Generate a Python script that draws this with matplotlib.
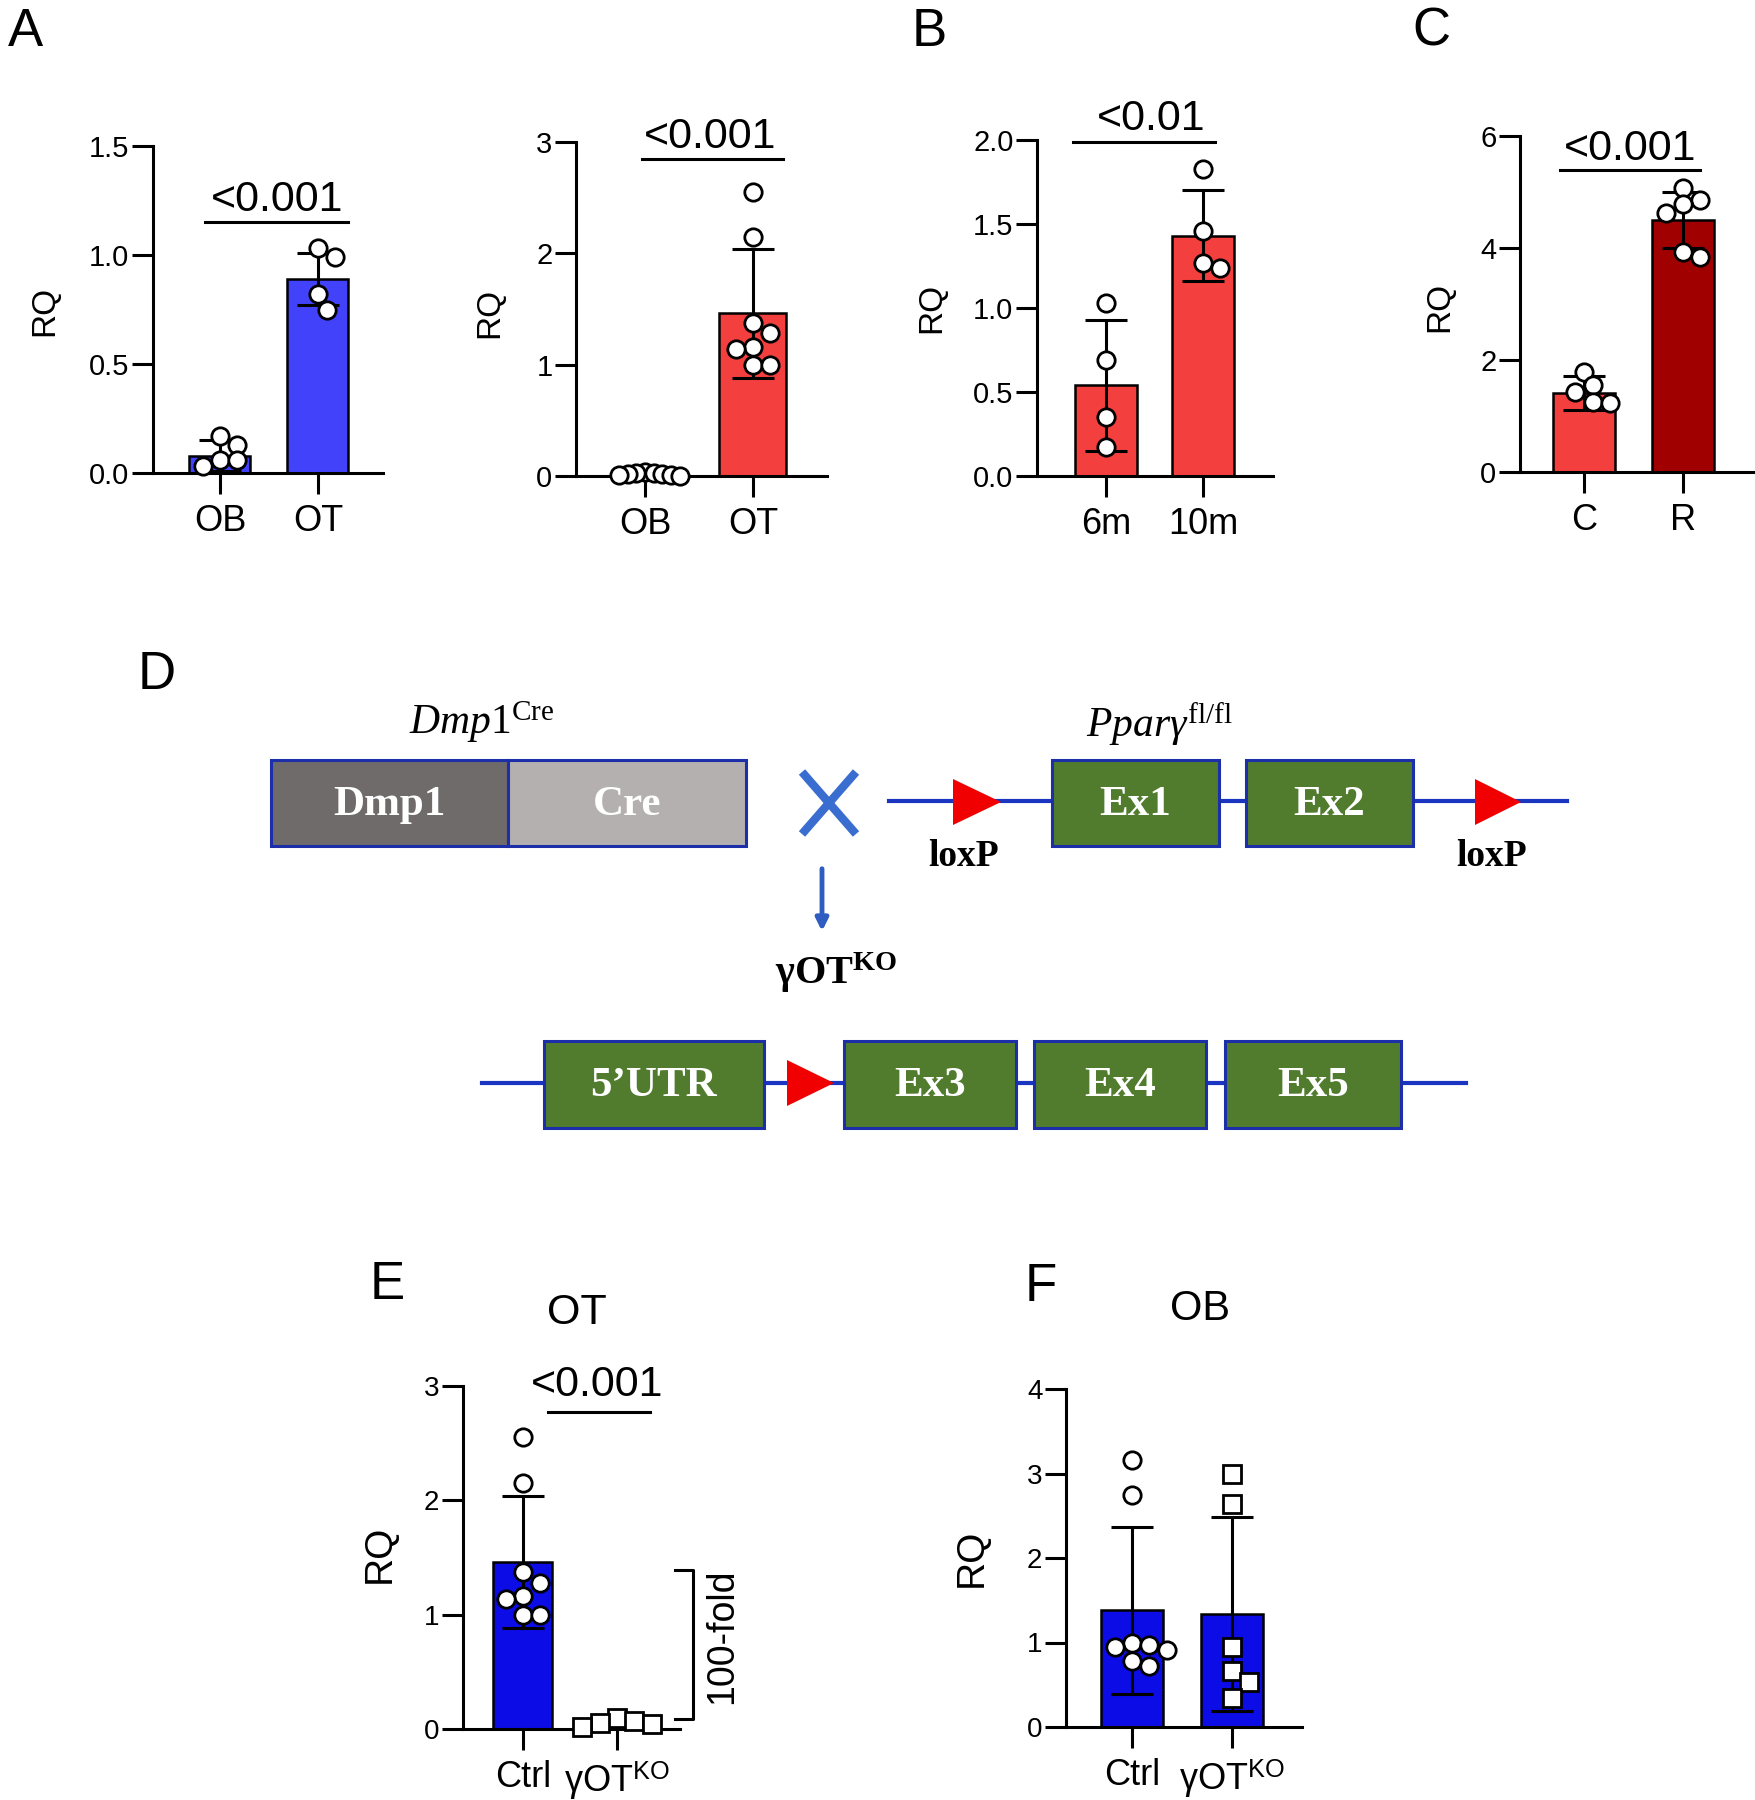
import matplotlib
matplotlib.use("Agg")
import matplotlib.pyplot as plt
from matplotlib.patches import Rectangle, Polygon

plt.rcParams['font.family'] = ['Liberation Sans', 'DejaVu Sans']
plt.rcParams['mathtext.fontset'] = 'custom'
plt.rcParams['mathtext.rm'] = 'Liberation Serif'
plt.rcParams['mathtext.it'] = 'Liberation Serif:italic'
plt.rcParams['mathtext.bf'] = 'Liberation Serif:bold'
plt.rcParams['mathtext.sf'] = 'Liberation Sans'

# ---------------- data ----------------
a1_cats = ["OB", "OT"]
a1_means = [0.08, 0.89]
a1_sd = [0.07, 0.12]
a1_ob_pts = [0.17, 0.13, 0.06, 0.06, 0.03]
a1_ot_pts = [1.03, 0.99, 0.82, 0.75]
a1_yticks = [0.0, 0.5, 1.0, 1.5]
a1_yticklabels = ["0.0", "0.5", "1.0", "1.5"]
a1_p = "<0.001"

a2_cats = ["OB", "OT"]
a2_means = [0.02, 1.46]
a2_sd = [0.02, 0.58]
a2_ob_pts = [0.04, 0.03, 0.03, 0.02, 0.02, 0.01, 0.01, 0.0]
a2_ot_pts = [2.55, 2.15, 1.37, 1.28, 1.16, 1.14, 1.00, 1.00]
a2_yticks = [0, 1, 2, 3]
a2_yticklabels = ["0", "1", "2", "3"]
a2_p = "<0.001"

b_cats = ["6m", "10m"]
b_means = [0.54, 1.43]
b_sd = [0.39, 0.27]
b_6m_pts = [1.03, 0.69, 0.35, 0.17]
b_10m_pts = [1.83, 1.46, 1.27, 1.24]
b_yticks = [0.0, 0.5, 1.0, 1.5, 2.0]
b_yticklabels = ["0.0", "0.5", "1.0", "1.5", "2.0"]
b_p = "<0.01"

c_cats = ["C", "R"]
c_means = [1.41, 4.50]
c_sd = [0.30, 0.50]
c_c_pts = [1.79, 1.55, 1.43, 1.25, 1.23]
c_r_pts = [5.07, 4.86, 4.79, 4.62, 3.93, 3.84]
c_yticks = [0, 2, 4, 6]
c_yticklabels = ["0", "2", "4", "6"]
c_p = "<0.001"

e_title = "OT"
e_cats = ["Ctrl", r"γOT$^{\mathsf{KO}}$"]
e_means = [1.46, 0.015]
e_sd = [0.58, 0.02]
e_ctrl_pts = [2.55, 2.15, 1.37, 1.28, 1.16, 1.14, 1.00, 1.00]
e_ko_pts = [0.10, 0.07, 0.05, 0.04, 0.02]
e_yticks = [0, 1, 2, 3]
e_yticklabels = ["0", "1", "2", "3"]
e_p = "<0.001"
e_fold = "100-fold"

f_title = "OB"
f_cats = ["Ctrl", r"γOT$^{\mathsf{KO}}$"]
f_means = [1.38, 1.34]
f_sd = [0.99, 1.15]
f_ctrl_pts = [3.16, 2.75, 0.99, 0.97, 0.95, 0.91, 0.78, 0.72]
f_ko_pts = [3.00, 2.64, 0.95, 0.66, 0.53, 0.34]
f_yticks = [0, 1, 2, 3, 4]
f_yticklabels = ["0", "1", "2", "3", "4"]

ylabel = "RQ"
panel_letters = ["A", "B", "C", "D", "E", "F"]

d_cre_labels = ["Dmp1", "Cre"]
d_flox_labels = ["Ex1", "Ex2"]
d_ko_labels = ["5\u2019UTR", "Ex3", "Ex4", "Ex5"]
d_cre_title = r"$\mathit{Dmp1}^{\mathrm{Cre}}$"
d_flox_title = r"$\mathit{Pparγ}^{\mathrm{fl/fl}}$"
d_ko_title = r"$\mathbf{γOT}^{\mathbf{KO}}$"
d_loxp = "loxP"

# ---------------- colours ----------------
BLUE_A = "#4242fb"
BLUE_E = "#0c0ce6"
RED = "#f43f3f"
DARKRED = "#a00000"

W, H, DPI = 1756, 1800, 100
fig = plt.figure(figsize=(W / DPI, H / DPI), dpi=DPI)

# ---------------- diagram (panel D) on a pixel-coordinate overlay ----------------
axd = fig.add_axes([0, 0, 1, 1])
axd.set_xlim(0, W)
axd.set_ylim(H, 0)
axd.axis("off")

LINE_BLUE = "#1a35c0"
EDGE_BLUE = "#1c2fa8"
GREEN = "#517c2e"

def box(x0, x1, y0, y1, fc, label, fs=31):
    axd.add_patch(Rectangle((x0, y0), x1 - x0, y1 - y0, facecolor=fc,
                            edgecolor=EDGE_BLUE, lw=2.2, zorder=3))
    axd.text((x0 + x1) / 2, (y0 + y1) / 2 + 2, label, ha="center", va="center",
             color="white", fontsize=fs, family="Liberation Serif",
             fontweight="bold", zorder=4)

def tri(x0, x1, yc, h):
    axd.add_patch(Polygon([(x0, yc - h / 2), (x0, yc + h / 2), (x1, yc)],
                          closed=True, facecolor="#f00000", edgecolor="none", zorder=4))

# Dmp1-Cre construct
box(271, 508, 760, 846, "#6f6b6b", d_cre_labels[0])
box(508, 746, 760, 846, "#b4b0af", d_cre_labels[1])
axd.text(482, 722, d_cre_title, ha="center", va="center", fontsize=30, color="black")

# cross mark
axd.plot([802, 856], [772, 834], color="#3a6dd0", lw=6, solid_capstyle="butt")
axd.plot([802, 856], [834, 772], color="#3a6dd0", lw=6, solid_capstyle="butt")
# arrow down
axd.annotate("", xy=(822, 934), xytext=(822, 866),
             arrowprops=dict(arrowstyle="-|>", color="#2e5cc0", lw=3.5, mutation_scale=18))
axd.text(836, 973, d_ko_title, ha="center", va="center", fontsize=29, color="black")

# floxed Pparg construct
axd.plot([889, 1567], [801, 801], color=LINE_BLUE, lw=3, zorder=2)
tri(953, 1001, 802, 46)
tri(1475, 1521, 802, 46)
axd.text(964, 856, d_loxp, ha="center", va="center", fontsize=27,
         family="Liberation Serif", fontweight="bold")
axd.text(1492, 856, d_loxp, ha="center", va="center", fontsize=27,
         family="Liberation Serif", fontweight="bold")
box(1052, 1219, 760, 846, GREEN, d_flox_labels[0])
box(1246, 1413, 760, 846, GREEN, d_flox_labels[1])
axd.text(1159, 724, d_flox_title, ha="center", va="center", fontsize=30, color="black")

# KO allele
axd.plot([482, 1466], [1083, 1083], color=LINE_BLUE, lw=3, zorder=2)
ko_x = [(544, 764), (844, 1016), (1034, 1206), (1225, 1401)]
for (x0, x1), lab in zip(ko_x, d_ko_labels):
    box(x0, x1, 1041, 1128, GREEN, lab)
tri(787, 834, 1083, 46)

# ---------------- bar panels ----------------
MS = 12.5  # marker size (pt)


def swarm_x(ax, xc, vals, diam, overlap=0.95):
    t = ax.transData
    inv = t.inverted()
    placed, xs = [], []
    step = diam * 0.5
    order = [0]
    for k in range(1, 20):
        order += [k, -k]
    for v in vals:
        px, py = t.transform((xc, v))
        cx = px
        for k in order:
            cx = px + k * step
            if all((cx - qx) ** 2 + (py - qy) ** 2 >= (diam * overlap) ** 2 for qx, qy in placed):
                break
        placed.append((cx, py))
        xs.append(inv.transform((cx, py))[0])
    return xs


def bar_panel(L, R, y0px, ytop_px, ytop_val, c0px, c1px, cats, means, sds, colors,
              pts_list, markers, yticks, yticklabels, ytick_fs, overlaps=(0.95, 0.95),
              bw_px=62):
    ax = fig.add_axes([L / W, 1 - y0px / H, (R - L) / W, (y0px - ytop_px) / H])
    u = c1px - c0px
    ax.set_xlim(-(c0px - L) / u, 1 + (R - c1px) / u)
    ax.set_ylim(0, ytop_val)
    ax.patch.set_alpha(0)
    for s in ["top", "right"]:
        ax.spines[s].set_visible(False)
    for s in ["left", "bottom"]:
        ax.spines[s].set_linewidth(2.2)
    ax.tick_params(axis="both", direction="out", length=15, width=2.2)
    ax.tick_params(axis="y", labelsize=ytick_fs, pad=2)
    ax.tick_params(axis="x", labelsize=26, pad=7)
    x = [0, 1]
    ax.set_xticks(x)
    ax.set_xticklabels(cats)
    ax.set_yticks(yticks)
    ax.set_yticklabels(yticklabels)
    ax.bar(x, means, width=bw_px / u, color=colors, edgecolor="black", lw=1.8, zorder=2)
    ax.errorbar(x, means, yerr=sds, fmt="none", ecolor="black", elinewidth=2.2,
                capsize=15, capthick=2.2, zorder=3)
    diam = MS * DPI / 72
    for xi, pts, mk, ov in zip(x, pts_list, markers, overlaps):
        xs = swarm_x(ax, xi, pts, diam, ov)
        ax.plot(xs, pts, linestyle="none", marker=mk, ms=MS, mfc="white",
                mec="black", mew=2.0, zorder=4, clip_on=False)
    return ax


def sig(ax, x0, x1, y, text, tx, ty, fs=31):
    ax.plot([x0, x1], [y, y], color="black", lw=2.2, clip_on=False, zorder=5)
    ax.text(tx, ty, text, ha="center", va="baseline", fontsize=fs, clip_on=False)


def ylab(xpx, ypx, fs=24):
    fig.text(xpx / W, 1 - ypx / H, ylabel, rotation=90, ha="center", va="center", fontsize=fs)


def letter(xpx, ybase, s, fs=38):
    fig.text(xpx / W, 1 - ybase / H, s, ha="left", va="baseline", fontsize=fs)

# A1
ax = bar_panel(153, 383, 473, 146, 1.5, 220, 318, a1_cats, a1_means, a1_sd,
               [BLUE_A, BLUE_A], [a1_ob_pts, a1_ot_pts], ["o", "o"],
               a1_yticks, a1_yticklabels, 21, overlaps=(0.8, 0.95), bw_px=61)
sig(ax, -0.15, 1.31, 1.152, a1_p, 0.58, 1.20)
ylab(45, 311)

# A2
ax = bar_panel(576, 827, 476, 142, 3, 645, 753, a2_cats, a2_means, a2_sd,
               [RED, RED], [a2_ob_pts, a2_ot_pts], ["o", "o"],
               a2_yticks, a2_yticklabels, 21, overlaps=(0.4, 0.95), bw_px=67)
sig(ax, -0.03, 1.28, 2.85, a2_p, 0.60, 2.95)
ylab(490, 313)

# B
ax = bar_panel(1037, 1273, 476, 140, 2.0, 1106, 1203, b_cats, b_means, b_sd,
               [RED, RED], [b_6m_pts, b_10m_pts], ["o", "o"],
               b_yticks, b_yticklabels, 21)
sig(ax, -0.34, 1.12, 1.99, b_p, 0.47, 2.06)
ylab(932, 308)

# C
ax = bar_panel(1520, 1756, 472, 136, 6, 1584, 1683, c_cats, c_means, c_sd,
               [RED, DARKRED], [c_c_pts, c_r_pts], ["o", "o"],
               c_yticks, c_yticklabels, 21, overlaps=(0.85, 0.85))
sig(ax, -0.24, 1.17, 5.39, c_p, 0.465, 5.57)
ylab(1440, 307)

# E
ax = bar_panel(463, 680, 1729, 1386, 3, 523, 617, e_cats, e_means, e_sd,
               [BLUE_E, BLUE_E], [e_ctrl_pts, e_ko_pts], ["o", "s"],
               e_yticks, e_yticklabels, 20, overlaps=(0.95, 0.8), bw_px=59)
sig(ax, 0.27, 1.35, 2.77, e_p, 0.79, 2.91)
ax.plot([1.62, 1.81, 1.81, 1.62], [1.39, 1.39, 0.09, 0.09], color="black", lw=2.2,
        clip_on=False)
ax.text(2.12, 0.815, e_fold, rotation=90, ha="center", va="center", fontsize=27,
        clip_on=False)
ylab(380, 1554, fs=28)
fig.text(577 / W, 1 - 1324 / H, e_title, ha="center", va="baseline", fontsize=31)

# F
ax = bar_panel(1066, 1302, 1727, 1389, 4, 1132, 1232, f_cats, f_means, f_sd,
               [BLUE_E, BLUE_E], [f_ctrl_pts, f_ko_pts], ["o", "s"],
               f_yticks, f_yticklabels, 20)
ylab(972, 1558, fs=28)
fig.text(1200 / W, 1 - 1320 / H, f_title, ha="center", va="baseline", fontsize=30)

# panel letters
letter(8, 46, panel_letters[0])
letter(912, 46, panel_letters[1])
letter(1412, 46, panel_letters[2])
letter(138, 689, panel_letters[3])
letter(370, 1299, panel_letters[4])
letter(1025, 1301, panel_letters[5])

fig.savefig("out.png", dpi=DPI)
